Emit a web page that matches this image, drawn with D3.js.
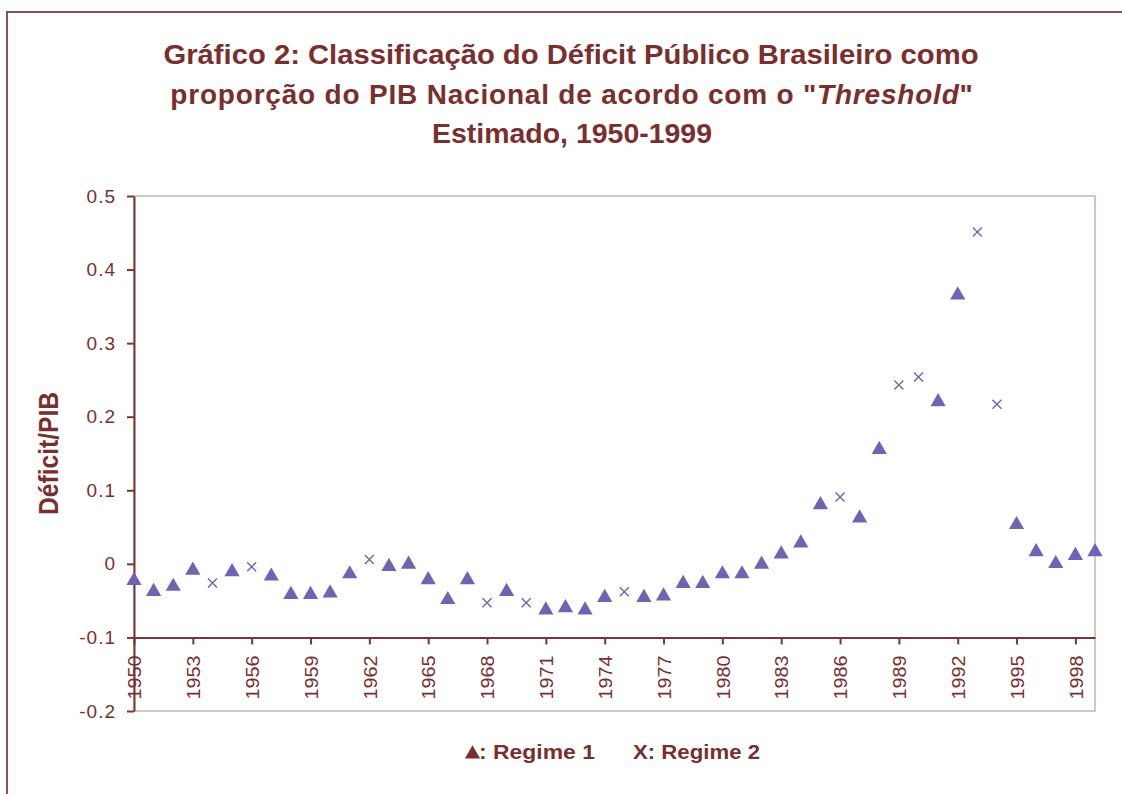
<!DOCTYPE html>
<html>
<head>
<meta charset="utf-8">
<script src="https://cdn.jsdelivr.net/npm/d3@7"></script>
<style>
  body { margin: 0; background: #fff; }
  text { font-family: "Liberation Sans", Arial, sans-serif; }
</style>
</head>
<body>
<div id="chart"></div>
<script>
// data
var years = [1950,1951,1952,1953,1954,1955,1956,1957,1958,1959,
             1960,1961,1962,1963,1964,1965,1966,1967,1968,1969,
             1970,1971,1972,1973,1974,1975,1976,1977,1978,1979,
             1980,1981,1982,1983,1984,1985,1986,1987,1988,1989,
             1990,1991,1992,1993,1994,1995,1996,1997,1998,1999];
var deficit = [-0.020,-0.035,-0.028,-0.006,-0.026,-0.008,-0.004,-0.014,-0.039,-0.039,
               -0.037,-0.011, 0.006,-0.001, 0.002,-0.019,-0.046,-0.019,-0.053,-0.035,
               -0.053,-0.060,-0.057,-0.060,-0.043,-0.038,-0.043,-0.041,-0.024,-0.024,
               -0.011,-0.011, 0.002, 0.016, 0.031, 0.083, 0.091, 0.065, 0.158, 0.243,
                0.254, 0.223, 0.368, 0.451, 0.217, 0.056, 0.019, 0.003, 0.014, 0.019];
var regime = [1,1,1,1,2,1,2,1,1,1,
              1,1,2,1,1,1,1,1,2,1,
              2,1,1,1,1,2,1,1,1,1,
              1,1,1,1,1,1,2,1,1,2,
              2,1,1,2,2,1,1,1,1,1];
var xTicks = [1950,1953,1956,1959,1962,1965,1968,1971,1974,1977,1980,1983,1986,1989,1992,1995,1998];
var yTicks = [-0.2,-0.1,0,0.1,0.2,0.3,0.4,0.5];
var titleLines = ["Gráfico 2: Classificação do Déficit Público Brasileiro como",
                  "proporção do PIB Nacional de acordo com o \"Threshold\"",
                  "Estimado, 1950-1999"];

var W = 1122, H = 794;
var textCol = "#7a2f2f", axisCol = "#7b3535", borderCol = "#c6b6a6", markCol = "#6f63b4";
var pLeft = 134, pRight = 1095, pTop = 196, pBottom = 711;

var svg = d3.select("#chart").append("svg")
    .attr("width", W).attr("height", H);

// outer frame
svg.append("rect")
    .attr("x", 7).attr("y", 12)
    .attr("width", 1300).attr("height", 1000)
    .attr("fill", "none").attr("stroke", "#8b5252").attr("stroke-width", 2);

// title
var tl = svg.append("text")
    .attr("text-anchor", "middle")
    .attr("fill", textCol)
    .style("font-weight", "bold")
    .style("font-size", "28px");
tl.append("tspan").attr("x", 571).attr("y", 64)
    .attr("textLength", 815).attr("lengthAdjust", "spacingAndGlyphs")
    .text(titleLines[0]);
var l2 = tl.append("tspan").attr("x", 572).attr("y", 104).style("letter-spacing", "0.8px");
l2.append("tspan").text("proporção do PIB Nacional de acordo com o \"");
l2.append("tspan").style("font-style", "italic").text("Threshold");
l2.append("tspan").text("\"");
tl.append("tspan").attr("x", 572).attr("y", 143)
    .attr("textLength", 280).attr("lengthAdjust", "spacingAndGlyphs")
    .text(titleLines[2]);

var x = d3.scaleLinear().domain([1950, 1999]).range([pLeft, pRight]);
var y = d3.scaleLinear().domain([-0.2, 0.5]).range([pBottom, pTop]);

// plot border (top, right, bottom)
svg.append("rect")
    .attr("x", pLeft).attr("y", pTop)
    .attr("width", pRight - pLeft).attr("height", pBottom - pTop)
    .attr("fill", "none").attr("stroke", borderCol).attr("stroke-width", 1.5);

// y axis
var yAxis = svg.append("g")
    .attr("transform", "translate(" + pLeft + ",0)")
    .call(d3.axisLeft(y).tickValues(yTicks).tickSizeInner(7).tickSizeOuter(0)
        .tickPadding(11)
        .tickFormat(function (d) { return String(+d.toFixed(1)); }));
yAxis.select(".domain").attr("stroke", axisCol).attr("stroke-width", 2);
yAxis.selectAll(".tick line").attr("stroke", axisCol).attr("stroke-width", 2);
yAxis.selectAll(".tick text")
    .attr("fill", textCol)
    .style("font-size", "19px")
    .style("letter-spacing", "1px")
    .attr("font-family", null);

// x axis at -0.1
var xAxis = svg.append("g")
    .attr("transform", "translate(0," + y(-0.1) + ")")
    .call(d3.axisBottom(x).tickValues(xTicks).tickSizeInner(7).tickSizeOuter(0)
        .tickFormat(d3.format("d")));
xAxis.select(".domain").attr("stroke", axisCol).attr("stroke-width", 2);
xAxis.selectAll(".tick line").attr("stroke", axisCol).attr("stroke-width", 2);
xAxis.selectAll(".tick text")
    .attr("fill", textCol)
    .attr("font-family", null)
    .style("font-size", "19px")
    .attr("text-anchor", "end")
    .attr("dy", "0.35em")
    .attr("y", 0)
    .attr("textLength", 44).attr("lengthAdjust", "spacingAndGlyphs")
    .attr("transform", "translate(0,18) rotate(-90)");

// y axis title
svg.append("text")
    .attr("transform", "translate(58," + ((pTop + pBottom) / 2) + ") rotate(-90)")
    .attr("text-anchor", "middle")
    .attr("fill", textCol)
    .style("font-weight", "bold")
    .style("font-size", "28px")
    .attr("textLength", 123).attr("lengthAdjust", "spacingAndGlyphs")
    .text("Déficit/PIB");

// points
var pts = years.map(function (yr, i) { return {year: yr, v: deficit[i], r: regime[i]}; });
var tri = d3.symbol().type(d3.symbolTriangle).size(100);

svg.append("g").selectAll("path")
    .data(pts.filter(function (d) { return d.r === 1; }))
    .enter().append("path")
    .attr("d", tri)
    .attr("transform", function (d) { return "translate(" + x(d.year) + "," + (y(d.v) + 2) + ")"; })
    .attr("fill", markCol);

svg.append("g").selectAll("path")
    .data(pts.filter(function (d) { return d.r === 2; }))
    .enter().append("path")
    .attr("d", "M-4.5,-4.5L4.5,4.5M-4.5,4.5L4.5,-4.5")
    .attr("transform", function (d) { return "translate(" + x(d.year) + "," + y(d.v) + ")"; })
    .attr("fill", "none")
    .attr("stroke", markCol)
    .attr("stroke-width", 1.4);

// legend
var lg = svg.append("g").attr("fill", textCol)
    .style("font-weight", "bold").style("font-size", "20px");
lg.append("path")
    .attr("d", d3.symbol().type(d3.symbolTriangle).size(100))
    .attr("transform", "translate(472.5,754)")
    .attr("fill", textCol);
lg.append("text").attr("x", 479).attr("y", 759)
    .attr("textLength", 116).attr("lengthAdjust", "spacingAndGlyphs")
    .text(": Regime 1");
lg.append("text").attr("x", 633).attr("y", 759)
    .attr("textLength", 127).attr("lengthAdjust", "spacingAndGlyphs")
    .text("X: Regime 2");
</script>
</body>
</html>
